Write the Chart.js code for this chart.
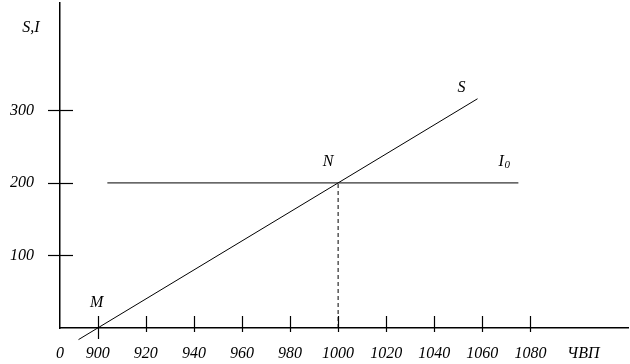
<!DOCTYPE html>
<html><head><meta charset="utf-8">
<script src="https://cdn.jsdelivr.net/npm/chart.js@4/dist/chart.umd.min.js"></script>
<style>html,body{margin:0;padding:0;background:#fff;} #wrap{width:630px;height:364px;}</style>
</head><body><div id="wrap"><canvas id="c" width="630" height="364"></canvas></div>
<script>
// ---- data ----
const xTickValues = [900, 920, 940, 960, 980, 1000, 1020, 1040, 1060, 1080];
const xTickLabels = ['900', '920', '940', '960', '980', '1000', '1020', '1040', '1060', '1080'];
const xOriginLabel = '0';
const xAxisTitle = 'ЧВП';
const xAxisTitleValue = 1102;
const yTickValues = [100, 200, 300];
const yTickLabels = ['100', '200', '300'];
const yAxisTitle = 'S,I';
const savingX = [892, 1058];      // S line
const savingY = [-16, 316];
const investX = [904, 1075];      // I0 line
const investY = [200, 200];
const equilibriumX = [1000, 1000]; // N drop line
const equilibriumY = [0, 200];
const pointM = {x: 900, y: 0};
const pointN = {x: 1000, y: 200};

const X_MIN = 884.3, X_MAX = 1120.6, Y_MIN = 0, Y_MAX = 448;
const FONT = 'italic 16px "Liberation Serif", "DejaVu Serif", serif';

function pts(xs, ys) { return xs.map((x, i) => ({x: x, y: ys[i]})); }

const decor = {
  id: 'decor',
  afterDraw(chart) {
    const ctx = chart.ctx, xs = chart.scales.x, ys = chart.scales.y;
    const ax = xs.getPixelForValue(X_MIN), ay = ys.getPixelForValue(Y_MIN);
    ctx.save();
    ctx.strokeStyle = '#000';
    ctx.lineWidth = 1.2;
    // x tick marks
    xTickValues.forEach((v, i) => {
      const px = Math.round(xs.getPixelForValue(v)) + 0.5;
      ctx.beginPath();
      ctx.moveTo(px, ay - 12);
      ctx.lineTo(px, ay + (i === 0 ? 11 : 4));
      ctx.stroke();
    });
    // y tick marks
    yTickValues.forEach(v => {
      const py = Math.round(ys.getPixelForValue(v)) + 0.5;
      ctx.beginPath();
      ctx.moveTo(ax - 12, py);
      ctx.lineTo(ax + 13, py);
      ctx.stroke();
    });
    // annotations
    ctx.fillStyle = '#000';
    ctx.font = FONT;
    ctx.textAlign = 'center';
    ctx.textBaseline = 'middle';
    const sEnd = {x: xs.getPixelForValue(savingX[1]), y: ys.getPixelForValue(savingY[1])};
    ctx.fillText('S', sEnd.x - 16, sEnd.y - 11);
    const n = {x: xs.getPixelForValue(pointN.x), y: ys.getPixelForValue(pointN.y)};
    ctx.fillText('N', n.x - 10, n.y - 21);
    const m = {x: xs.getPixelForValue(pointM.x), y: ys.getPixelForValue(pointM.y)};
    ctx.fillText('M', m.x - 1, m.y - 25);
    ctx.fillText(yAxisTitle, ax - 29, chart.chartArea.top + 25);
    const iEnd = {x: xs.getPixelForValue(investX[1]), y: ys.getPixelForValue(investY[1])};
    ctx.textAlign = 'left';
    ctx.fillText('I', iEnd.x - 20, iEnd.y - 21);
    ctx.font = 'italic 11px "Liberation Serif", "DejaVu Serif", serif';
    ctx.fillText('0', iEnd.x - 14, iEnd.y - 18);
    ctx.restore();
  }
};

const lineDs = (data, dash) => ({
  data: data, showLine: true, pointRadius: 0, borderColor: '#000',
  borderWidth: 1, borderDash: dash || [], clip: false, fill: false, tension: 0
});

function noPad(s) { s.paddingTop = 0; s.paddingBottom = 0; s.paddingLeft = 0; s.paddingRight = 0; }

new Chart(document.getElementById('c'), {
  type: 'scatter',
  data: {
    datasets: [
      lineDs(pts(savingX, savingY)),
      lineDs(pts(investX, investY)),
      lineDs(pts(equilibriumX, equilibriumY), [4, 3])
    ]
  },
  options: {
    responsive: false,
    animation: false,
    devicePixelRatio: 1,
    layout: {padding: {top: 3, right: 2, left: 0, bottom: 0}},
    plugins: {legend: {display: false}, tooltip: {enabled: false}},
    scales: {
      x: {
        type: 'linear', min: X_MIN, max: X_MAX,
        afterBuildTicks(s) {
          s.ticks = [X_MIN].concat(xTickValues, [xAxisTitleValue]).map(v => ({value: v}));
        },
        afterFit(s) { s.height = 36; noPad(s); },
        grid: {display: true, drawOnChartArea: false, drawTicks: false},
        border: {display: true, color: '#000', width: 1.5},
        ticks: {
          autoSkip: false, maxRotation: 0, minRotation: 0, padding: 16, color: '#000',
          font: {family: '"Liberation Serif", "DejaVu Serif", serif', size: 16, style: 'italic'},
          callback(v, i, arr) {
            if (i === 0) return xOriginLabel;
            if (i === arr.length - 1) return xAxisTitle;
            return xTickLabels[i - 1];
          }
        }
      },
      y: {
        type: 'linear', min: Y_MIN, max: Y_MAX,
        afterBuildTicks(s) { s.ticks = yTickValues.map(v => ({value: v})); },
        afterFit(s) { s.width = 60; noPad(s); },
        grid: {display: true, drawOnChartArea: false, drawTicks: false},
        border: {display: true, color: '#000', width: 1.5},
        ticks: {
          padding: 26, color: '#000',
          font: {family: '"Liberation Serif", "DejaVu Serif", serif', size: 16, style: 'italic'},
          callback(v, i) { return yTickLabels[i]; }
        }
      }
    }
  },
  plugins: [decor]
});
</script>
</body></html>
